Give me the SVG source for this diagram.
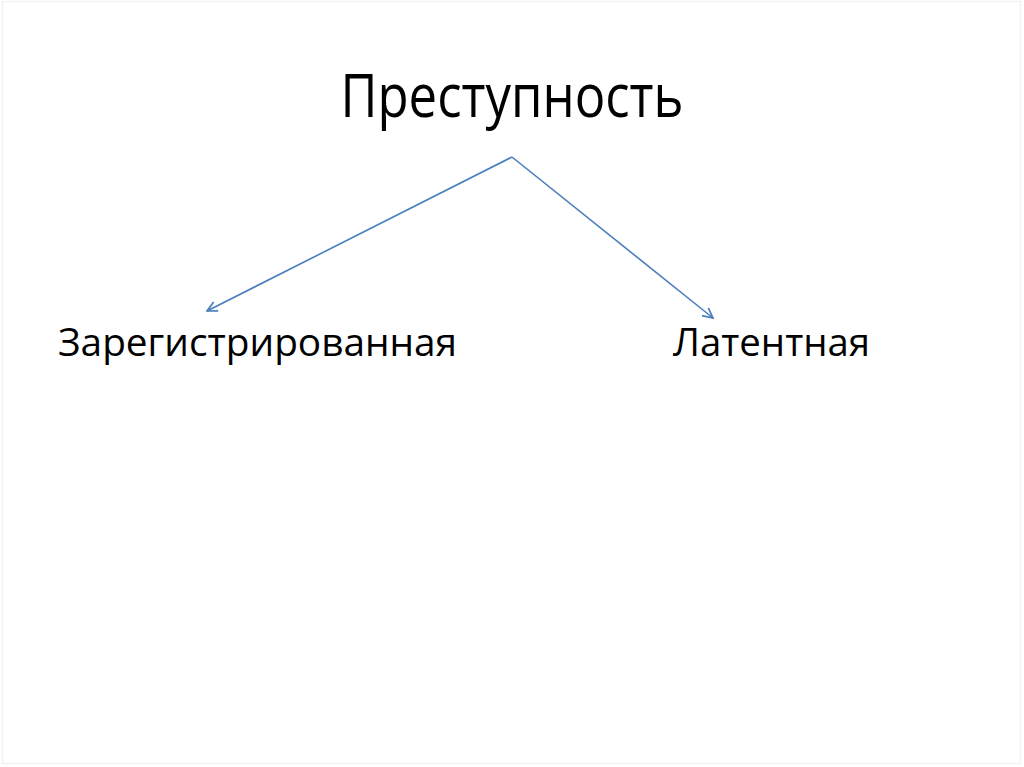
<svg xmlns="http://www.w3.org/2000/svg" width="1024" height="767" viewBox="0 0 1024 767">
<style>
.t{font-family:"Open Sans","Noto Sans","DejaVu Sans",sans-serif;fill:#000}
.c{fill:none;stroke:#4a7ebb;stroke-width:1.6}
</style>
<defs>
<marker id="arr" viewBox="0 0 12 12" refX="11" refY="6" markerWidth="12" markerHeight="12" markerUnits="userSpaceOnUse" orient="auto">
<path d="M1,1 L11,6 L1,11" fill="none" stroke="#4a7ebb" stroke-width="1.7"/>
</marker>
</defs>
<rect x="0" y="0" width="1024" height="767" fill="#fff"/>
<rect x="2.5" y="1.5" width="1018" height="762" fill="none" stroke="#f2f2f2" stroke-width="1.5"/>
<g id="title">
<text class="t" x="512" y="117" font-size="61" text-anchor="middle" textLength="343" lengthAdjust="spacingAndGlyphs">Преступность</text>
</g>
<g id="connectors">
<line class="c" x1="512" y1="157" x2="207" y2="311" marker-end="url(#arr)"/>
<line class="c" x1="512" y1="157" x2="713" y2="318" marker-end="url(#arr)"/>
</g>
<g id="registered">
<text class="t" x="58" y="356" font-size="39" textLength="399" lengthAdjust="spacingAndGlyphs">Зарегистрированная</text>
</g>
<g id="latent">
<text class="t" x="673" y="356" font-size="39" textLength="197" lengthAdjust="spacingAndGlyphs">Латентная</text>
</g>
</svg>
